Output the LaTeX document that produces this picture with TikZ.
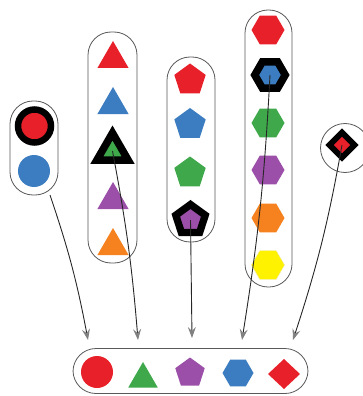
\documentclass[tikz,border=0pt]{standalone}
\usetikzlibrary{shapes.geometric,arrows.meta}
\definecolor{cred}{HTML}{E8202A}
\definecolor{cblue}{HTML}{3B7DC0}
\definecolor{cgreen}{HTML}{3EA84A}
\definecolor{cpurple}{HTML}{9B4FA8}
\definecolor{corange}{HTML}{F5821F}
\definecolor{cyellow}{HTML}{FFF200}
\begin{document}
\begin{tikzpicture}[x=1pt,y=-1pt,
  shp/.style={inner sep=0pt,outer sep=0pt},
  tri/.style={shp,regular polygon,regular polygon sides=3,minimum size=36pt},
  pent/.style={shp,regular polygon,regular polygon sides=5,minimum size=33pt},
  hexa/.style={shp,regular polygon,regular polygon sides=6,minimum size=33pt},
  circ/.style={shp,circle,minimum size=32pt},
  hl/.style={draw=black,line width=7pt},
  grp/.style={draw=black!65,line width=0.8pt,rounded corners=23pt,shp},
  conn/.style={draw=black!85,line width=0.9pt,-{Stealth[length=11pt,width=8pt,inset=4pt,color=gray]}}
]
\useasboundingbox (0,0) rectangle (362,396);
% containers
\node[grp,minimum width=48pt,minimum height=94pt] (g1) at (34,148) {};
\node[grp,minimum width=49pt,minimum height=231pt] (g2) at (112.5,147.5) {};
\node[grp,minimum width=48pt,minimum height=185pt] (g3) at (191,149.5) {};
\node[grp,minimum width=47pt,minimum height=277pt] (g4) at (268.5,148.5) {};
\node[shp,circle,draw=black!65,line width=0.8pt,minimum size=49pt] (g5) at (345,148) {};
\node[grp,minimum width=235pt,minimum height=45pt] (gb) at (190.5,371) {};
% group 1: circles
\node[circ,fill=cred,hl,line width=6.5pt,minimum size=33pt] (c1) at (34.5,126) {};
\node[circ,fill=cblue] (c2) at (34,171) {};
% group 2: triangles
\node[tri,fill=cred] (t1) at (113,59) {};
\node[tri,fill=cblue] (t2) at (113,105) {};
\node[tri,fill=cgreen,hl,line width=7.5pt,minimum size=36pt] (t3) at (112.5,151) {};
\node[tri,fill=cpurple] (t4) at (113,200) {};
\node[tri,fill=corange] (t5) at (113,246) {};
% group 3: pentagons
\node[pent,fill=cred] (p1) at (190,80) {};
\node[pent,fill=cblue] (p2) at (190,124.5) {};
\node[pent,fill=cgreen] (p3) at (190,173) {};
\node[pent,fill=cpurple,hl,line width=7.3pt,minimum size=31pt] (p4) at (190.5,220) {};
% group 4: hexagons
\node[hexa,fill=cred] (h1) at (268,30) {};
\node[hexa,fill=cblue,hl,line width=7.5pt,minimum size=30.5pt] (h2) at (270,75) {};
\node[hexa,fill=cgreen] (h3) at (268,123) {};
\node[hexa,fill=cpurple] (h4) at (268,170) {};
\node[hexa,fill=corange] (h5) at (268,218) {};
\node[hexa,fill=cyellow,draw=yellow!80!black!40,line width=0.4pt] (h6) at (268,265) {};
% group 5: diamond
\node[shp,diamond,fill=cred,hl,line width=6pt,minimum size=25pt] (d1) at (342,145) {};
% bottom row
\node[circ,fill=cred] (bc) at (97,372) {};
\node[tri,fill=cgreen,minimum size=34pt] (bt) at (143,379) {};
\node[pent,fill=cpurple,minimum size=31pt] (bp) at (190,373) {};
\node[hexa,fill=cblue,minimum size=31pt] (bh) at (238,373) {};
\node[shp,diamond,fill=cred,minimum width=32pt,minimum height=30pt] (bd) at (284,374) {};
% arrow ends
\coordinate (e1) at (88,340);
\coordinate (e2) at (138,340);
\coordinate (e3) at (192,338);
\coordinate (e4) at (242,340);
\coordinate (e5) at (293,340);
\coordinate (s1) at (50,195);
% connectors
\draw[conn] (s1) to[bend left=4] (e1);
\draw[conn] (t3.center) to[bend left=3] (e2);
\draw[conn] (p4.center) -- (e3);
\draw[conn] (h2.center) to[bend left=3] (e4);
\draw[conn] (d1.center) to[bend left=4] (e5);
\end{tikzpicture}
\end{document}
